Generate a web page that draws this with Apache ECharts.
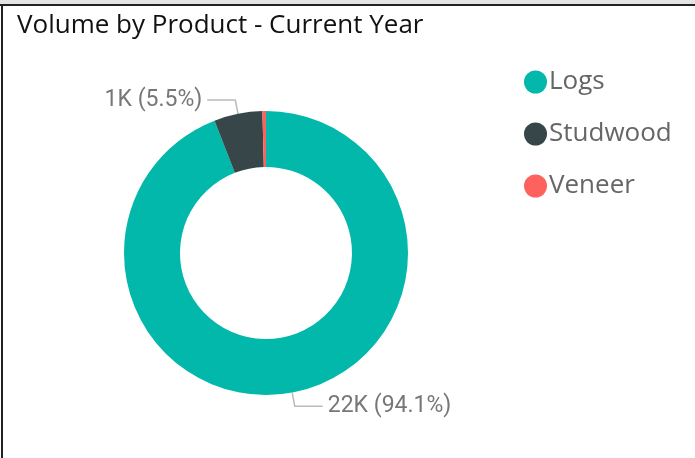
<!DOCTYPE html>
<html>
<head>
<meta charset="utf-8">
<script src="https://cdn.jsdelivr.net/npm/echarts@6/dist/echarts.min.js"></script>
<style>
  html, body { margin: 0; padding: 0; background: #fff; }
  #chart { width: 695px; height: 458px; }
</style>
</head>
<body>
<div id="chart"></div>
<script>
var myChart = echarts.init(document.getElementById('chart'));

// data
var products = ['Logs', 'Studwood', 'Veneer'];
var volumes = [22010, 1287, 94];
var colors = ['#01B8AA', '#374649', '#FD625E'];
var showLabel = [true, true, false];

var labelStyle = {
  position: 'outside',
  fontFamily: 'Roboto',
  fontSize: 23,
  color: '#777',
  formatter: function (p) {
    return Math.round(p.value / 1000) + 'K (' + p.percent.toFixed(1) + '%)';
  }
};

var pieData = products.map(function (name, i) {
  return {
    name: name,
    value: volumes[i],
    itemStyle: { color: colors[i] },
    label: Object.assign({}, labelStyle, { show: showLabel[i] }),
    labelLine: { show: showLabel[i] }
  };
});

var option = {
  backgroundColor: '#fff',
  title: {
    text: 'Volume by Product - Current Year',
    left: 12,
    top: 8,
    textStyle: {
      fontFamily: 'Open Sans',
      fontWeight: 'normal',
      fontSize: 26,
      color: '#111'
    }
  },
  legend: {
    orient: 'vertical',
    left: 519,
    top: 64,
    icon: 'circle',
    itemWidth: 23,
    itemHeight: 23,
    itemGap: 26,
    data: products,
    textStyle: {
      fontFamily: 'Open Sans',
      fontSize: 26,
      color: '#666',
      padding: [0, 0, 0, -3]
    }
  },
  graphic: [
    { type: 'rect', shape: { x: 0, y: 0, width: 695, height: 4 }, style: { fill: '#e4e4e4' }, silent: true },
    { type: 'rect', shape: { x: 0, y: 4, width: 695, height: 2 }, style: { fill: '#222' }, silent: true },
    { type: 'rect', shape: { x: 1, y: 4, width: 2, height: 454 }, style: { fill: '#222' }, silent: true }
  ],
  series: [{
    name: 'Volume',
    type: 'pie',
    center: [266, 253],
    radius: [86, 142],
    startAngle: 90,
    clockwise: true,
    avoidLabelOverlap: false,
    percentPrecision: 1,
    label: labelStyle,
    labelLine: {
      length: 14,
      length2: 28,
      lineStyle: { color: '#bbb', width: 1.5 }
    },
    emphasis: { disabled: true },
    data: pieData
  }]
};

myChart.setOption(option);
</script>
</body>
</html>
